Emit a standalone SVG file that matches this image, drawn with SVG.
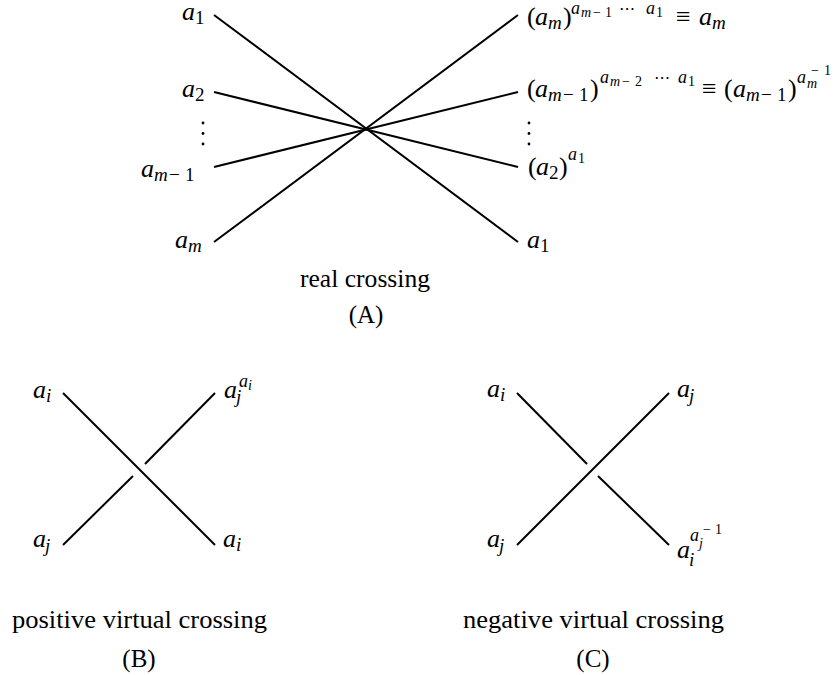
<svg xmlns="http://www.w3.org/2000/svg" width="838" height="675" viewBox="0 0 838 675">
<style>
.ln{stroke:#000;stroke-width:2;fill:none}
text{font-family:"Liberation Serif","Times New Roman",serif;fill:#000}
.r{font-size:26px}
.i{font-style:italic}
.s{font-size:19px}
.p{font-size:18px}
.q{font-size:14px}
.cap{font-size:25px;text-anchor:middle}
.dots{font-family:"DejaVu Sans",sans-serif;font-size:16px}
</style>
<rect width="838" height="675" fill="#fff"/>
<g id="connectors">
  <g id="real-crossing-lines">
    <line class="ln" x1="214" y1="15" x2="518" y2="242"/>
    <line class="ln" x1="214" y1="242" x2="518" y2="15"/>
    <line class="ln" x1="214" y1="92" x2="518" y2="167"/>
    <line class="ln" x1="214" y1="167" x2="518" y2="92"/>
  </g>
  <g id="positive-virtual-lines">
    <line class="ln" x1="63" y1="393" x2="215" y2="545"/>
    <line class="ln" x1="63" y1="545" x2="133" y2="476"/>
    <line class="ln" x1="145" y1="464" x2="215" y2="393"/>
  </g>
  <g id="negative-virtual-lines">
    <line class="ln" x1="517" y1="545" x2="669" y2="393"/>
    <line class="ln" x1="517" y1="393" x2="587" y2="464"/>
    <line class="ln" x1="598" y1="476" x2="669" y2="545"/>
  </g>
</g>
<g id="A-left-labels">
  <text class="r"><tspan class="i" x="182" y="20">a</tspan><tspan class="s" x="195" y="24">1</tspan></text>
  <text class="r"><tspan class="i" x="182" y="97">a</tspan><tspan class="s" x="195" y="101">2</tspan></text>
  <circle cx="203" cy="123" r="1.4"/><circle cx="203" cy="133.5" r="1.4"/><circle cx="203" cy="144" r="1.4"/>
  <text class="r"><tspan class="i" x="141" y="177">a</tspan><tspan class="s i" x="154" y="181">m</tspan><tspan class="s" x="169" y="181">−</tspan><tspan class="s" x="185" y="181">1</tspan></text>
  <text class="r"><tspan class="i" x="175" y="248">a</tspan><tspan class="s i" x="188" y="252">m</tspan></text>
</g>
<g id="A-right-labels">
  <text class="r"><tspan x="527" y="25">(</tspan><tspan class="i" x="535" y="25">a</tspan><tspan class="s i" x="548" y="29">m</tspan><tspan x="563" y="25">)</tspan><tspan class="p i" x="571" y="14">a</tspan><tspan class="q i" x="581" y="17">m</tspan><tspan class="q" x="593" y="17">−</tspan><tspan class="q" x="605" y="17">1</tspan><tspan class="dots" x="619" y="14">⋯</tspan><tspan class="p i" x="646" y="14">a</tspan><tspan class="q" x="656" y="17">1</tspan><tspan x="676" y="25">≡</tspan><tspan class="i" x="699" y="25">a</tspan><tspan class="s i" x="712" y="29">m</tspan></text>
  <text class="r"><tspan x="527" y="97">(</tspan><tspan class="i" x="535" y="97">a</tspan><tspan class="s i" x="548" y="101">m</tspan><tspan class="s" x="563" y="101">−</tspan><tspan class="s" x="579" y="101">1</tspan><tspan x="590" y="97">)</tspan><tspan class="p i" x="600" y="83">a</tspan><tspan class="q i" x="610" y="86">m</tspan><tspan class="q" x="622" y="86">−</tspan><tspan class="q" x="635" y="86">2</tspan><tspan class="dots" x="654" y="83">⋯</tspan><tspan class="p i" x="678" y="83">a</tspan><tspan class="q" x="688" y="86">1</tspan><tspan x="702" y="97">≡</tspan><tspan x="724" y="97">(</tspan><tspan class="i" x="733" y="97">a</tspan><tspan class="s i" x="746" y="101">m</tspan><tspan class="s" x="761" y="101">−</tspan><tspan class="s" x="777" y="101">1</tspan><tspan x="788" y="97">)</tspan><tspan class="p i" x="797" y="83">a</tspan><tspan class="q i" x="807" y="88">m</tspan><tspan class="q" x="811" y="75">−</tspan><tspan class="q" x="824" y="75">1</tspan></text>
  <circle cx="529" cy="123" r="1.4"/><circle cx="529" cy="133.5" r="1.4"/><circle cx="529" cy="144" r="1.4"/>
  <text class="r"><tspan x="528" y="175">(</tspan><tspan class="i" x="536" y="175">a</tspan><tspan class="s" x="549" y="179">2</tspan><tspan x="559" y="175">)</tspan><tspan class="p i" x="568" y="160">a</tspan><tspan class="q" x="578" y="163">1</tspan></text>
  <text class="r"><tspan class="i" x="527" y="248">a</tspan><tspan class="s" x="540" y="252">1</tspan></text>
</g>
<g id="A-caption">
  <text class="cap" x="365" y="287" textLength="130" lengthAdjust="spacingAndGlyphs">real crossing</text>
  <text class="cap" x="366" y="323">(A)</text>
</g>
<g id="B-labels">
  <text class="r"><tspan class="i" x="33" y="398">a</tspan><tspan class="s i" x="46" y="402">i</tspan></text>
  <text class="r"><tspan class="i" x="224" y="398">a</tspan><tspan class="s i" x="236" y="403">j</tspan><tspan class="p i" x="239" y="387">a</tspan><tspan class="q i" x="248" y="390">i</tspan></text>
  <text class="r"><tspan class="i" x="33" y="547">a</tspan><tspan class="s i" x="45" y="552">j</tspan></text>
  <text class="r"><tspan class="i" x="223" y="547">a</tspan><tspan class="s i" x="236" y="551">i</tspan></text>
  <text class="cap" x="139.5" y="628" textLength="255" lengthAdjust="spacingAndGlyphs">positive virtual crossing</text>
  <text class="cap" x="139" y="667">(B)</text>
</g>
<g id="C-labels">
  <text class="r"><tspan class="i" x="487" y="397">a</tspan><tspan class="s i" x="500" y="401">i</tspan></text>
  <text class="r"><tspan class="i" x="677" y="397">a</tspan><tspan class="s i" x="689" y="402">j</tspan></text>
  <text class="r"><tspan class="i" x="487" y="547">a</tspan><tspan class="s i" x="499" y="552">j</tspan></text>
  <text class="r"><tspan class="i" x="677" y="558">a</tspan><tspan class="s i" x="689" y="566">i</tspan><tspan class="p i" x="690" y="541">a</tspan><tspan class="q i" x="699" y="548">j</tspan><tspan class="q" x="703" y="534">−</tspan><tspan class="q" x="715" y="534">1</tspan></text>
  <text class="cap" x="593.5" y="628" textLength="261" lengthAdjust="spacingAndGlyphs">negative virtual crossing</text>
  <text class="cap" x="593" y="667">(C)</text>
</g>
</svg>
